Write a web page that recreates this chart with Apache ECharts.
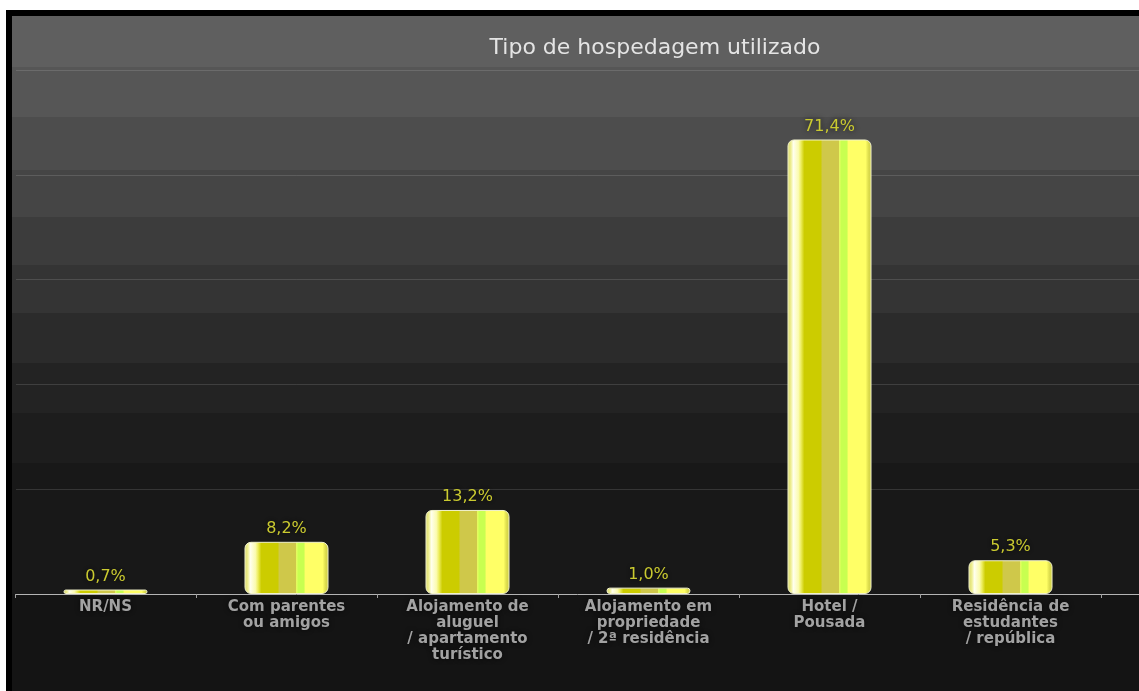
<!DOCTYPE html>
<html>
<head>
<meta charset="utf-8">
<script src="https://cdn.jsdelivr.net/npm/echarts@6/dist/echarts.min.js"></script>
<style>
  html, body { margin: 0; padding: 0; background: #ffffff; }
  #frame { position: absolute; left: 6px; top: 10px; width: 1133px; height: 681px; background: #000; }
  #chart { position: absolute; left: 6px; top: 6px; width: 1127px; height: 675px; }
</style>
</head>
<body>
<div id="frame"><div id="chart"></div></div>
<script>
// ---- data ----
const titleText = 'Tipo de hospedagem utilizado';
const categories = [
  'NR/NS',
  'Com parentes\nou amigos',
  'Alojamento de\naluguel\n/ apartamento\nturístico',
  'Alojamento em\npropriedade\n/ 2ª residência',
  'Hotel /\nPousada',
  'Residência de\nestudantes\n/ república'
];
const values = [0.7, 8.2, 13.2, 1.0, 71.4, 5.3];
const axisMax = 90.8;
const gridStep = 16.46;

// ---- styling ----
const chartH = 675;
const bandEdges = [51, 101, 154, 201, 249, 297, 347, 397, 447, 578];
const bandColors = ['#5f5f5f', '#565656', '#4d4d4d', '#454545', '#3c3c3c', '#343434', '#2b2b2b', '#232323', '#1d1d1d', '#181818', '#141414'];
const bgStops = [];
let prev = 0;
for (let i = 0; i < bandColors.length; i++) {
  const end = i < bandEdges.length ? bandEdges[i] / chartH : 1;
  bgStops.push({ offset: prev, color: bandColors[i] });
  bgStops.push({ offset: end, color: bandColors[i] });
  prev = end;
}
const barStops = [
  [0.00, '#d6d66a'], [0.04, '#eeee90'], [0.07, '#ffffee'], [0.13, '#fbfbb0'],
  [0.16, '#eeee60'], [0.20, '#cccc00'], [0.40, '#cccc00'], [0.41, '#cfc84a'],
  [0.61, '#cfc84a'], [0.62, '#e6ff60'], [0.64, '#c8ff50'], [0.71, '#c8ff50'],
  [0.72, '#ffff66'], [0.93, '#ffff66'], [0.96, '#e0e050'], [1.00, '#c8c840']
].map(s => ({ offset: s[0], color: s[1] }));

const chart = echarts.init(document.getElementById('chart'), null, { renderer: 'canvas' });
chart.setOption({
  backgroundColor: new echarts.graphic.LinearGradient(0, 0, 0, 1, bgStops),
  animation: false,
  title: {
    text: titleText,
    left: 638,
    top: 16,
    textAlign: 'center',
    textStyle: { color: '#e4e4e4', fontSize: 22, fontWeight: 'normal', fontFamily: 'DejaVu Sans' }
  },
  grid: [
    { left: 4, right: 0, top: 0, bottom: 97 },
    { left: 3, right: 38, top: 0, bottom: 97 }
  ],
  xAxis: [
    {
      gridIndex: 0, type: 'value', min: 0, max: 1,
      axisLine: { show: true, lineStyle: { color: '#b4b4b4', width: 1 } },
      axisTick: { show: false }, axisLabel: { show: false }, splitLine: { show: false }
    },
    {
      gridIndex: 1, type: 'category', data: categories,
      axisLine: { show: false },
      axisTick: { show: true, length: 4, lineStyle: { color: '#a0a0a0' } },
      axisLabel: {
        interval: 0, margin: 5, color: '#a2a2a2', fontSize: 15, fontWeight: 'bold',
        lineHeight: 16, fontFamily: 'DejaVu Sans',
        textShadowColor: 'rgba(0,0,0,0.7)', textShadowBlur: 5
      }
    }
  ],
  yAxis: [
    {
      gridIndex: 0, type: 'value', min: 0, max: axisMax, interval: gridStep,
      axisLine: { show: false }, axisTick: { show: false }, axisLabel: { show: false },
      splitLine: { show: true, showMinLine: false, showMaxLine: false, lineStyle: { color: 'rgba(255,255,255,0.13)', width: 1 } }
    },
    {
      gridIndex: 1, type: 'value', min: 0, max: axisMax, show: false,
      splitLine: { show: false }
    }
  ],
  series: [{
    type: 'bar',
    xAxisIndex: 1, yAxisIndex: 1,
    data: values,
    barWidth: 84,
    itemStyle: {
      color: new echarts.graphic.LinearGradient(0, 0, 1, 0, barStops),
      borderColor: '#f2f2cc', borderWidth: 1, borderRadius: 6
    },
    label: {
      show: true, position: 'top', distance: 5,
      color: '#caca30', fontSize: 16, fontFamily: 'DejaVu Sans',
      textShadowColor: 'rgba(0,0,0,0.8)', textShadowBlur: 6,
      formatter: p => p.value.toFixed(1).replace('.', ',') + '%'
    }
  }]
});
</script>
</body>
</html>
